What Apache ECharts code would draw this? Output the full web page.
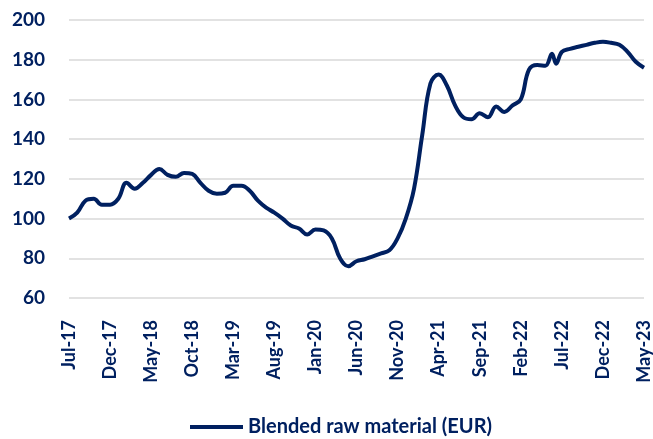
<!DOCTYPE html>
<html>
<head>
<meta charset="utf-8">
<script src="https://cdn.jsdelivr.net/npm/echarts@6/dist/echarts.min.js"></script>
<style>
  html, body { margin: 0; padding: 0; background: #fff; }
  #chart { width: 653px; height: 439px; }
</style>
</head>
<body>
<div id="chart"></div>
<script>
// month offset from Jul-17 (a few half-month points around Jun-22)
const monthIdx = [
    0, 1, 2, 3, 4, 5, 6, 7, 8, 9,
    10, 11, 12, 13, 14, 15, 16, 17, 18, 19,
    20, 21, 22, 23, 24, 25, 26, 27, 28, 29,
    30, 31, 32, 33, 34, 35, 36, 37, 38, 39,
    40, 41, 42, 43, 44, 45, 46, 47, 48, 49,
    50, 51, 52, 53, 54, 55, 56, 57, 58, 58.8, 59.3,
    60, 61, 62, 63, 64, 65, 66, 67, 68, 69, 70
];
const rawMaterial = [
    100, 103, 109, 110, 107, 107, 110, 118, 115, 118,
    122, 125, 122, 121, 123, 122.5, 118, 114, 112.5, 113,
    116.5, 116.5, 114, 109, 105.5, 103, 100, 96.5, 95, 92,
    94.5, 94, 90, 80, 76, 78.5, 79.5, 81, 82.5, 84,
    90, 100, 115, 142, 168, 172.5, 167, 157, 151, 150,
    153, 151, 156.5, 153.7, 157, 160, 175, 177.3, 177, 183, 178,
    184, 185.5, 186.5, 187.5, 188.5, 189, 188.5, 187.5, 184, 179, 176
];
const tickLabels = [
    'Jul-17', 'Dec-17', 'May-18', 'Oct-18', 'Mar-19', 'Aug-19', 'Jan-20', 'Jun-20',
    'Nov-20', 'Apr-21', 'Sep-21', 'Feb-22', 'Jul-22', 'Dec-22', 'May-23'
];
const seriesName = 'Blended raw material (EUR)';

const navy = '#002060';
const font = 'Lato';

const chart = echarts.init(document.getElementById('chart'));

chart.setOption({
    animation: false,
    grid: { left: 69, right: 8, top: 20, bottom: 141 },
    xAxis: {
        type: 'value',
        min: 0,
        max: 70,
        interval: 5,
        axisLine: { show: false },
        axisTick: { show: false },
        splitLine: { show: false },
        axisLabel: {
            rotate: 90,
            margin: 22,
            color: navy,
            fontFamily: font,
            fontWeight: 'bold',
            fontSize: 18,
            formatter: v => tickLabels[v / 5] || ''
        }
    },
    yAxis: {
        type: 'value',
        min: 60,
        max: 200,
        interval: 20,
        axisLine: { show: false },
        axisTick: { show: false },
        splitLine: { lineStyle: { color: '#d9d9d9', width: 1.5 } },
        axisLabel: {
            margin: 24,
            color: navy,
            fontFamily: font,
            fontWeight: 'bold',
            fontSize: 19
        }
    },
    legend: {
        top: 412,
        left: 185,
        icon: 'rect',
        itemWidth: 53,
        itemHeight: 4,
        itemGap: 5,
        textStyle: {
            color: navy,
            fontFamily: font,
            fontWeight: 'bold',
            fontSize: 20
        },
        data: [seriesName]
    },
    series: [{
        name: seriesName,
        type: 'line',
        smooth: 0.4,
        showSymbol: false,
        lineStyle: { color: navy, width: 4 },
        itemStyle: { color: navy },
        data: monthIdx.map((m, i) => [m, rawMaterial[i]])
    }]
});
</script>
</body>
</html>
